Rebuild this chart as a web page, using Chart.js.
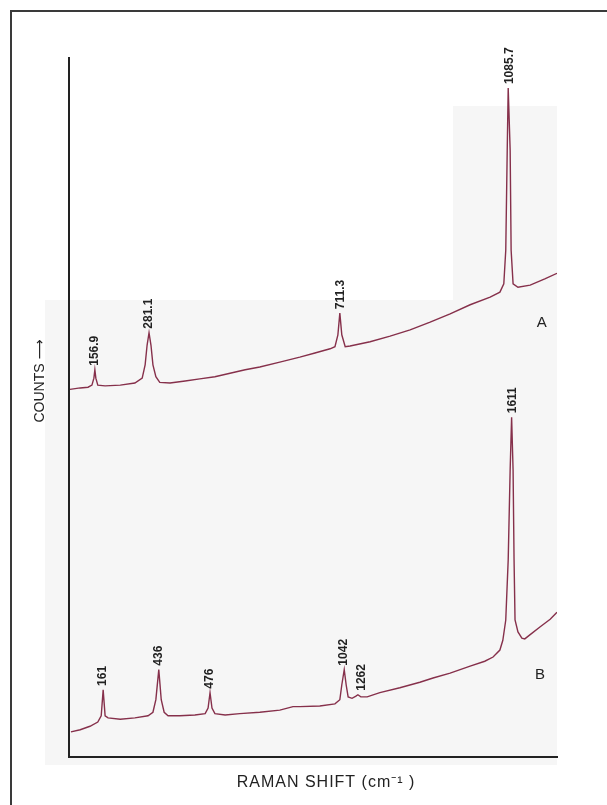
<!DOCTYPE html>
<html>
<head>
<meta charset="utf-8">
<script src="https://cdn.jsdelivr.net/npm/chart.js@4/dist/chart.umd.min.js"></script>
<style>
  html, body { margin: 0; padding: 0; background: #fff; }
  #wrap { position: relative; width: 607px; height: 805px; overflow: hidden; }
  .frame { position: absolute; left: 10px; top: 10px; right: -4px; bottom: -4px;
           border-left: 2px solid #3a3a3a; border-top: 2px solid #3a3a3a; }
  .scan { position: absolute; background: #f6f6f6; }
  canvas { position: absolute; left: 0; top: 0; }
</style>
</head>
<body>
<div id="wrap">
  <div class="frame"></div>
  <div class="scan" style="left:45px; top:300px; width:512px; height:465px;"></div>
  <div class="scan" style="left:453px; top:106px; width:104px; height:194px;"></div>
  <canvas id="chart" width="607" height="805"></canvas>
</div>
<script>
// x: relative position along the Raman shift axis (0-100, axis has no ticks)
// y: counts, arbitrary units (0-100)

// spectrum A
const posA = [0.2, 2.3, 3.9, 4.7, 5.1, 5.3, 5.5, 5.9, 7.4, 10.5, 13.5, 15.0, 15.6, 16.0, 16.4, 16.8, 17.2, 17.8, 18.6,
  20.7, 23.8, 26.8, 29.9, 33.0, 36.1, 39.1, 43.2, 47.3, 50.4, 53.5, 54.5, 55.1, 55.5, 55.9, 56.6, 57.6, 61.7, 65.8,
  69.9, 74.0, 78.1, 82.2, 86.3, 88.3, 89.1, 89.5, 89.8, 90.0, 90.4, 90.6, 91.0, 92.0, 94.5, 97.5, 100];
const countsA = [52.6, 52.8, 52.9, 53.2, 54.2, 55.4, 54.2, 53.2, 53.1, 53.2, 53.5, 54.2, 56.1, 58.9, 60.7, 58.9, 56.1, 54.4, 53.6,
  53.5, 53.8, 54.1, 54.4, 54.9, 55.4, 55.8, 56.5, 57.2, 57.8, 58.4, 58.7, 60.4, 63.5, 60.4, 58.7, 58.8, 59.4, 60.2,
  61.1, 62.2, 63.4, 64.7, 65.8, 66.5, 67.7, 72.5, 86.8, 95.7, 86.8, 72.5, 67.7, 67.2, 67.5, 68.4, 69.2];

// spectrum B
const posB = [0.4, 2.3, 4.3, 5.9, 6.6, 7.0, 7.4, 8.0, 10.5, 13.5, 16.2, 17.2, 17.8, 18.4, 18.9, 19.5, 20.3, 22.7, 25.8,
  27.9, 28.5, 28.9, 29.3, 29.9, 32.0, 35.0, 39.1, 43.2, 45.9, 47.3, 51.4, 54.5, 55.5, 55.9, 56.4, 56.8, 57.2, 58.0,
  58.8, 59.2, 59.8, 61.1, 63.7, 67.8, 71.9, 74.6, 78.1, 82.2, 85.2, 86.9, 88.3, 88.9, 89.5, 90.0, 90.4, 90.7, 91.0,
  91.2, 91.4, 92.0, 92.8, 93.4, 94.5, 96.5, 98.6, 100];
const countsB = [3.6, 3.9, 4.4, 5.0, 5.9, 9.6, 5.9, 5.6, 5.4, 5.6, 5.9, 6.4, 8.2, 12.5, 8.2, 6.4, 5.9, 5.9, 6.0,
  6.2, 7.0, 9.2, 7.0, 6.2, 6.0, 6.2, 6.4, 6.7, 7.2, 7.2, 7.3, 7.6, 8.2, 10.3, 12.5, 10.3, 8.6, 8.4,
  8.7, 8.9, 8.6, 8.6, 9.2, 9.9, 10.7, 11.3, 12.0, 13.0, 13.7, 14.3, 15.3, 16.7, 19.6, 28.2, 41.1, 48.6, 41.1,
  28.2, 19.6, 17.9, 17.0, 16.9, 17.5, 18.6, 19.7, 20.7];

// peak labels (Raman shift, cm-1)
const peakTextA = ['156.9', '281.1', '711.3', '1085.7'];
const peakPosA = [5.3, 16.4, 55.6, 90.4];
const peakCountsA = [55.4, 60.7, 63.5, 95.7];

const peakTextB = ['161', '436', '476', '1042', '1262', '1611'];
const peakPosB = [7.0, 18.4, 28.9, 56.2, 60.0, 90.9];
const peakCountsB = [9.6, 12.5, 9.2, 12.5, 8.9, 48.6];

// trace names
const traceNames = ['A', 'B'];
const traceNamePos = [96.9, 96.5];
const traceNameCounts = [62.1, 11.7];

const xTitle = 'RAMAN SHIFT (cm\u207B\u00B9 )';
const yTitle = 'COUNTS \u27F6';

const INK = '#222';
const TRACE = '#86304b';
const labelFont = "bold 12px 'Liberation Sans Narrow', 'Liberation Sans', sans-serif";

const toPoints = (xs, ys) => xs.map((x, i) => ({ x, y: ys[i] }));

// 縦書きのピークラベル、A/B 記号、軸タイトル
const annotate = {
    id: 'annotate',
    afterDatasetsDraw(chart) {
        const { ctx, scales: { x, y }, chartArea } = chart;
        ctx.save();
        ctx.fillStyle = INK;

        const drawPeaks = (texts, pos, counts) => {
            texts.forEach((t, i) => {
                const px = x.getPixelForValue(pos[i]);
                const py = y.getPixelForValue(counts[i]);
                ctx.save();
                ctx.translate(px, py - 4);
                ctx.rotate(-Math.PI / 2);
                ctx.font = labelFont;
                ctx.textAlign = 'left';
                ctx.textBaseline = 'middle';
                ctx.fillText(t, 0, 0);
                ctx.restore();
            });
        };
        drawPeaks(peakTextA, peakPosA, peakCountsA);
        drawPeaks(peakTextB, peakPosB, peakCountsB);

        ctx.font = "15px 'Liberation Sans', sans-serif";
        ctx.textAlign = 'center';
        ctx.textBaseline = 'middle';
        traceNames.forEach((n, i) => {
            ctx.fillText(n, x.getPixelForValue(traceNamePos[i]), y.getPixelForValue(traceNameCounts[i]));
        });

        // axis titles
        ctx.font = "16px 'Liberation Sans', sans-serif";
        ctx.letterSpacing = '1px';
        ctx.fillText(xTitle, 326, chartArea.bottom + 26);
        ctx.letterSpacing = '0px';
        ctx.save();
        ctx.translate(40, 381);
        ctx.rotate(-Math.PI / 2);
        ctx.font = "14px 'Liberation Sans', 'DejaVu Sans', sans-serif";
        ctx.fillText(yTitle, 0, 0);
        ctx.restore();

        ctx.restore();
    }
};

const lineStyle = {
    borderColor: TRACE,
    borderWidth: 1.4,
    pointRadius: 0,
    tension: 0,
    fill: false
};

new Chart(document.getElementById('chart'), {
    type: 'line',
    data: {
        datasets: [
            { label: 'A', data: toPoints(posA, countsA), ...lineStyle },
            { label: 'B', data: toPoints(posB, countsB), ...lineStyle }
        ]
    },
    options: {
        responsive: false,
        animation: false,
        layout: { padding: { left: 69, right: 50, top: 58, bottom: 48 } },
        plugins: { legend: { display: false }, tooltip: { enabled: false } },
        scales: {
            x: {
                type: 'linear', min: 0, max: 100,
                grid: { display: false },
                border: { display: true, color: INK, width: 2 },
                ticks: { display: false },
                afterFit: s => { s.height = 0; }
            },
            y: {
                type: 'linear', min: 0, max: 100,
                grid: { display: false },
                border: { display: true, color: INK, width: 2 },
                ticks: { display: false },
                afterFit: s => { s.width = 0; }
            }
        }
    },
    plugins: [annotate]
});
</script>
</body>
</html>
